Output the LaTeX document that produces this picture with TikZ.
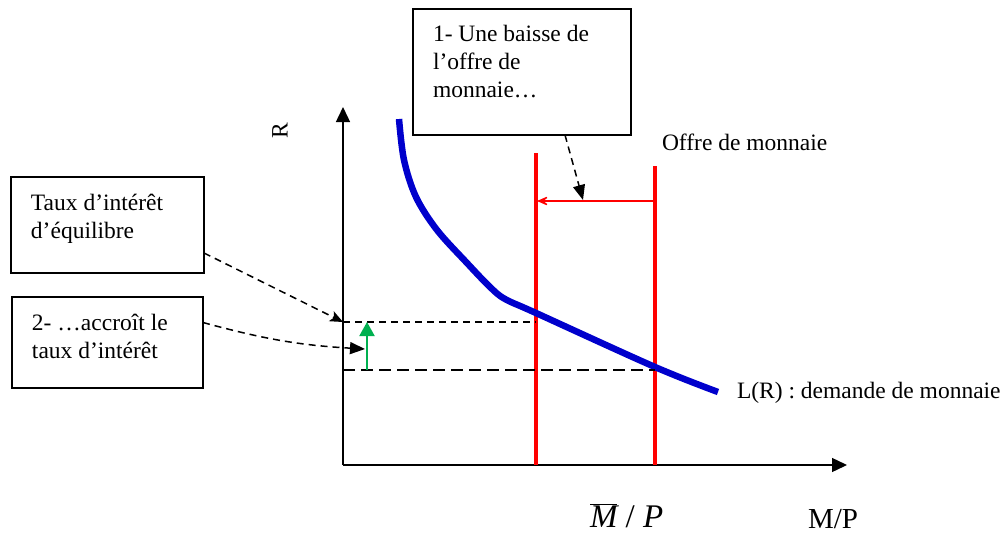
\documentclass[tikz,border=0pt]{standalone}
\usepackage{fontspec}
\setmainfont{Liberation Serif}
\usetikzlibrary{arrows.meta,calc}
\definecolor{curveblue}{RGB}{0,0,204}
\definecolor{supred}{RGB}{255,0,0}
\definecolor{upgreen}{RGB}{0,176,80}
\newcommand{\boxtext}[3]{\begin{minipage}[t][#2][t]{#1}\vspace*{13.4pt}\raggedright\leftskip=20pt\parindent=0pt\strut #3\end{minipage}}
\begin{document}
\begin{tikzpicture}[x=1pt,y=-1pt,
  every node/.style={inner sep=0pt, outer sep=0pt, font=\fontsize{23.5}{28}\selectfont},
  infobox/.style={draw, line width=1.6pt, anchor=north west},
  axis/.style={line width=1.4pt, -{Triangle[length=15pt,width=14pt]}},
  callout/.style={line width=1.5pt, dash pattern=on 7pt off 5pt},
  supply/.style={draw=supred, line width=3.5pt},
  level/.style={line width=1.4pt}]
\useasboundingbox (0,0) rectangle (1007,535);

% boxes
\node[infobox] (b1) at (413,9) {\boxtext{218pt}{126pt}{1- Une baisse de\\ l’offre de\\ monnaie…}};
\node[infobox] (b2) at (11,177) {\boxtext{193pt}{96pt}{Taux d’intérêt\\ d’équilibre}};
\node[infobox] (b3) at (12,297) {\boxtext{191pt}{91pt}{2- …accroît le\\ taux d’intérêt}};

% axes
\coordinate (O) at (343,465);
\coordinate (ytip) at (343,107);
\coordinate (xtip) at (847,465);
\draw[axis] (O) -- (ytip);
\draw[axis] (O) -- (xtip);
\node[rotate=90] (rlab) at (280,131) {R};

% supply lines
\coordinate (s1top) at (536,153);
\coordinate (s1bot) at (536,465);
\coordinate (s2top) at (655,166);
\coordinate (s2bot) at (655,465);
\draw[supply] (s1bot) -- (s1top);
\draw[supply] (s2bot) -- (s2top);

% shift arrow
\coordinate (sh1) at (655,201);
\coordinate (sh2) at (537,201);
\coordinate (shmid) at (583,200);
\draw[supred, line width=1.4pt, -{Stealth[length=16pt,width=14pt,inset=10pt]}] (sh1) -- (sh2);

% demand curve
\draw[curveblue, line width=6.5pt] plot[smooth, tension=0.55] coordinates {(399,119) (404,160) (416,197) (437,230) (467,263) (490,287) (505,299) (536,313) (655,367) (718,392)};

% equilibrium levels
\coordinate (r1) at (343,322);
\coordinate (r1e) at (536,322);
\coordinate (r0) at (343,370);
\coordinate (r0e) at (655,370);
\draw[level, dash pattern=on 7pt off 5pt] (r1) -- (r1e);
\draw[level, dash pattern=on 12pt off 6pt] (r0) -- (r0e);

% green rise arrow
\coordinate (g0) at (367,370);
\coordinate (g1) at (367,322);
\draw[upgreen, line width=2pt, -{Triangle[length=14pt,width=15pt]}] (g0) -- (g1);

% callout arrows
\coordinate (c3) at (365,349);
\draw[callout, -{Triangle[length=15pt,width=12pt]}] ([xshift=43pt]b1.south) -- (shmid);
\draw[callout, -{Stealth[length=13pt,width=11pt,inset=3pt]}] ([yshift=20pt]b2.south east) -- (r1);
\draw[callout, -{Triangle[length=15pt,width=12pt]}] ([yshift=20pt]b3.east) to[bend right=6] (c3);

% labels
\node[anchor=base west] (offre) at (662,150) {Offre de monnaie};
\node[anchor=base west] (lr) at (737,398) {L(R) : demande de monnaie};
\node[anchor=base west, font=\fontsize{29}{34}\selectfont] (mp) at (808,528) {M/P};
\node[anchor=base west] (mbar) at (590,527) {\fontsize{33}{40}\selectfont $\overline{\hbox{\itshape M}}$ / {\itshape P}};
\end{tikzpicture}
\end{document}
